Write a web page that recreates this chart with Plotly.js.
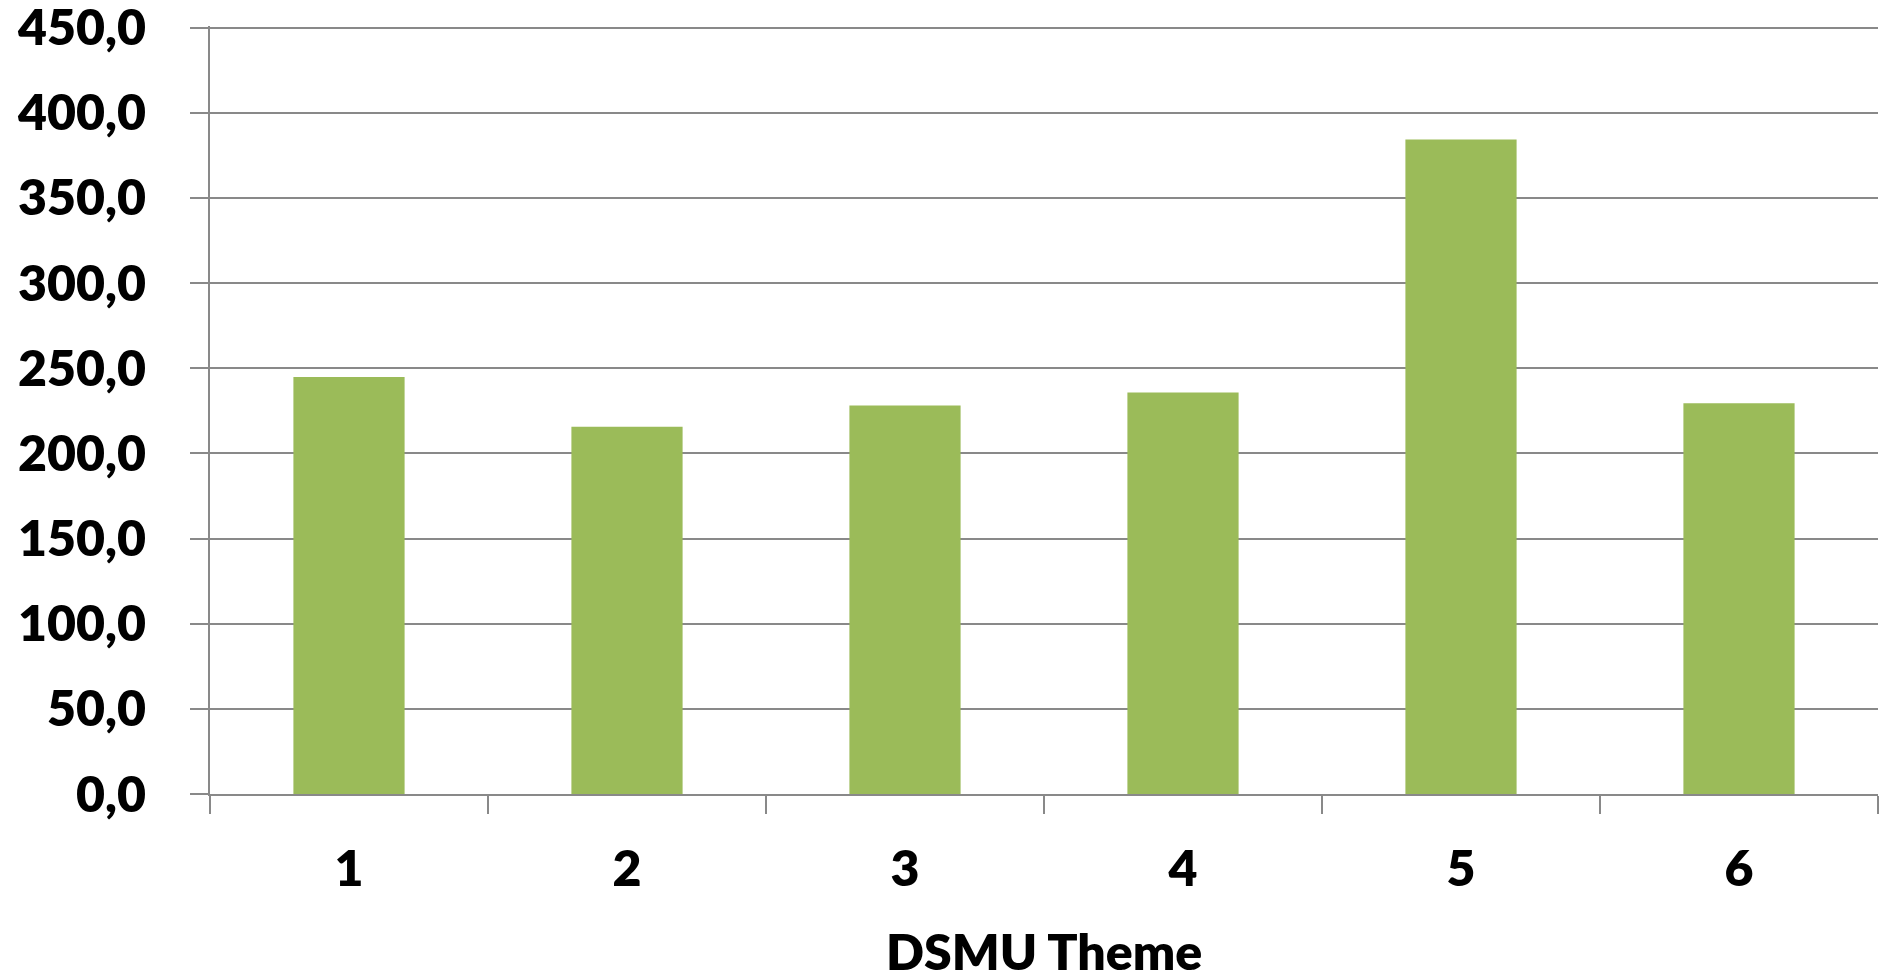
<!DOCTYPE html>
<html>
<head>
<meta charset="utf-8">
<script src="https://cdn.plot.ly/plotly-3.0.1.min.js"></script>
<style>
html,body{margin:0;padding:0;background:#fff;}
#chart{width:1881px;height:974px;}
</style>
</head>
<body>
<div id="chart"></div>
<script>
const categories = ["1", "2", "3", "4", "5", "6"];
const values = [244.9, 215.6, 228.1, 235.8, 384.4, 229.5];
const yTickValues = [0, 50, 100, 150, 200, 250, 300, 350, 400, 450];
const yTickLabels = ["0,0", "50,0", "100,0", "150,0", "200,0", "250,0", "300,0", "350,0", "400,0", "450,0"];
const xTitle = "DSMU Theme";

const gridColor = "#898989";
const fontFam = "Lato, 'Open Sans', sans-serif";

const trace = {
  type: "bar",
  x: categories,
  y: values,
  marker: {color: "#9BBB59", line: {width: 0}},
  hoverinfo: "skip"
};

const layout = {
  width: 1881,
  height: 974,
  margin: {l: 210, r: 3, t: 26.3, b: 179.5},
  paper_bgcolor: "#ffffff",
  plot_bgcolor: "#ffffff",
  showlegend: false,
  bargap: 0.6,
  font: {family: fontFam, color: "#000000"},
  xaxis: {
    type: "category",
    tickson: "boundaries",
    ticks: "outside",
    ticklen: 18,
    tickwidth: 2,
    tickcolor: gridColor,
    showline: true,
    linecolor: gridColor,
    linewidth: 2,
    showgrid: false,
    zeroline: false,
    tickfont: {family: fontFam, size: 50, weight: 800, color: "#000"},
    ticklabelstandoff: 30,
    ticklabeloverflow: "allow"
  },
  yaxis: {
    range: [0, 451],
    tickmode: "array",
    tickvals: yTickValues,
    ticktext: yTickLabels,
    ticks: "outside",
    ticklen: 18,
    tickwidth: 2,
    tickcolor: gridColor,
    showline: true,
    linecolor: gridColor,
    linewidth: 2,
    showgrid: true,
    gridcolor: gridColor,
    gridwidth: 2,
    zeroline: false,
    tickfont: {family: fontFam, size: 50, weight: 800, color: "#000"},
    ticklabelstandoff: 34,
    ticklabeloverflow: "allow"
  },
  annotations: [{
    text: xTitle,
    xref: "paper", yref: "paper",
    x: 0.5, y: 0,
    xanchor: "center", yanchor: "middle",
    yshift: -157,
    showarrow: false,
    font: {family: fontFam, size: 50, weight: 800, color: "#000"}
  }]
};

Plotly.newPlot("chart", [trace], layout, {staticPlot: true, displayModeBar: false});
</script>
</body>
</html>
